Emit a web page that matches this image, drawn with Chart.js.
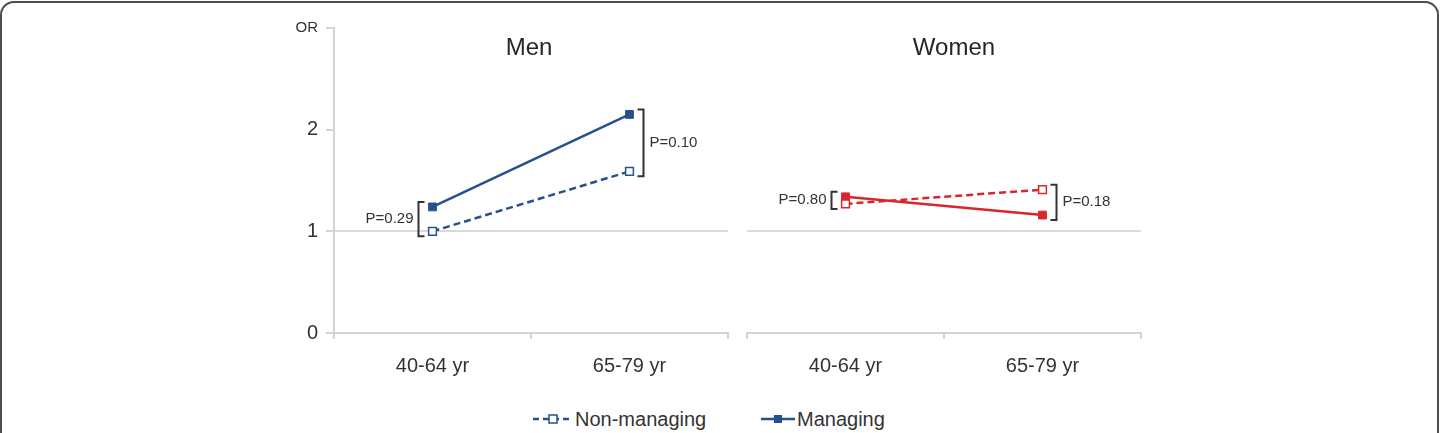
<!DOCTYPE html>
<html>
<head>
<meta charset="utf-8">
<script src="https://cdn.jsdelivr.net/npm/chart.js@4.4.1/dist/chart.umd.min.js"></script>
<style>
  html, body { margin: 0; padding: 0; background: #fff; }
  body { width: 1441px; height: 433px; overflow: hidden; position: relative; font-family: "Liberation Sans", Arial, sans-serif; }
  .frame { position: absolute; left: 0; top: 1px; width: 1435px; height: 480px; border: 2.5px solid #4d4d4d; border-radius: 14px; }
  canvas { position: absolute; top: 0; }
  #men-chart { left: 250px; }
  #women-chart { left: 740px; }
  .legend { position: absolute; top: 408px; left: 0; height: 22px; font-size: 20px; color: #333; }
  .legend .item { position: absolute; top: 0; white-space: nowrap; display: flex; align-items: center; height: 22px; }
  .legend svg { display: block; margin-right: 2px; }
</style>
</head>
<body>
<div class="frame"></div>
<canvas id="men-chart" width="490" height="400"></canvas>
<canvas id="women-chart" width="420" height="400"></canvas>
<div class="legend">
  <div class="item" style="left:533px">
    <svg width="40" height="12"><line x1="0" y1="6" x2="40" y2="6" stroke="#24528f" stroke-width="2.5" stroke-dasharray="6,4"/><rect x="16" y="2" width="8" height="8" fill="#fff" stroke="#24528f" stroke-width="1.5"/></svg>
    <span>Non-managing</span>
  </div>
  <div class="item" style="left:761px">
    <svg width="34" height="12"><line x1="0" y1="6" x2="34" y2="6" stroke="#24528f" stroke-width="2.5"/><rect x="13" y="2" width="8" height="8" fill="#24528f"/></svg>
    <span>Managing</span>
  </div>
</div>
<script>
// categories and odds ratios
const ageGroups = ['40-64 yr', '65-79 yr'];
const menNonManaging = [1.00, 1.59];
const menManaging = [1.24, 2.15];
const womenNonManaging = [1.27, 1.41];
const womenManaging = [1.34, 1.16];
const menPValues = ['P=0.29', 'P=0.10'];
const womenPValues = ['P=0.80', 'P=0.18'];
const yTicks = [0, 1, 2, 3];

const FONT = '"Liberation Sans", Arial, sans-serif';
const BLUE = '#24528f';
const RED = '#d9262c';
const AXIS = '#d4d4d4';
const TEXT = '#333';

// panel title and P-value brackets, positioned from the scales
const panelNotes = {
  id: 'panelNotes',
  afterDatasetsDraw(chart, args, opts) {
    const { ctx, chartArea } = chart;
    const x = chart.scales.x, y = chart.scales.y;
    ctx.save();
    ctx.fillStyle = '#262626';
    ctx.font = '24px ' + FONT;
    ctx.textAlign = 'center';
    ctx.textBaseline = 'middle';
    ctx.fillText(opts.title, (chartArea.left + chartArea.right) / 2 + opts.titleShift, chartArea.top + 20);

    ctx.strokeStyle = TEXT;
    ctx.fillStyle = TEXT;
    ctx.lineWidth = 2;
    ctx.font = '15px ' + FONT;
    opts.pLabels.forEach((label, i) => {
      const a = chart.data.datasets[0].data[i];
      const b = chart.data.datasets[1].data[i];
      const px = x.getPixelForValue(i);
      const top = y.getPixelForValue(Math.max(a, b)) - 5;
      const bottom = y.getPixelForValue(Math.min(a, b)) + 5;
      const left = i === 0;
      const bx = left ? px - 14 : px + 14;
      const serif = left ? 6 : -6;
      ctx.beginPath();
      ctx.moveTo(bx + serif, top);
      ctx.lineTo(bx, top);
      ctx.lineTo(bx, bottom);
      ctx.lineTo(bx + serif, bottom);
      ctx.stroke();
      ctx.textAlign = left ? 'right' : 'left';
      ctx.fillText(label, left ? bx - 5 : bx + 6, (top + bottom) / 2);
    });
    ctx.restore();
  }
};

function makeDatasets(nonManaging, managing, color) {
  return [{
    label: 'Non-managing',
    data: nonManaging,
    borderColor: color,
    backgroundColor: '#fff',
    borderWidth: 2.5,
    borderDash: [7, 4],
    pointStyle: 'rect',
    pointRadius: 5.5,
    pointBorderWidth: 1.5,
    pointBackgroundColor: '#fff',
    pointBorderColor: color
  }, {
    label: 'Managing',
    data: managing,
    borderColor: color,
    backgroundColor: color,
    borderWidth: 2.5,
    pointStyle: 'rect',
    pointRadius: 5.5,
    pointBorderWidth: 1,
    pointBackgroundColor: color,
    pointBorderColor: color
  }];
}

function makeOptions(showAxis, notes, padding) {
  return {
    responsive: false,
    animation: false,
    layout: { padding: padding },
    plugins: {
      legend: { display: false },
      tooltip: { enabled: false },
      panelNotes: notes
    },
    scales: {
      x: {
        offset: true,
        afterFit: s => { s.height = 67; },
        border: { color: AXIS, width: 2 },
        grid: { offset: true, drawOnChartArea: false, drawTicks: true, tickLength: 6, color: AXIS, lineWidth: 2 },
        ticks: { color: TEXT, padding: 15, font: { family: FONT, size: 20 } }
      },
      y: {
        min: 0,
        max: 3,
        afterFit: s => { s.width = showAxis ? 84 : 0; },
        afterBuildTicks: s => { s.ticks = yTicks.map(v => ({ value: v })); },
        border: { display: showAxis, color: AXIS, width: 2 },
        grid: {
          drawTicks: showAxis,
          tickLength: 8,
          tickColor: AXIS,
          lineWidth: 2,
          color: c => (c.tick && c.tick.value === 1 ? '#d9d9d9' : 'rgba(0,0,0,0)')
        },
        ticks: {
          display: showAxis,
          padding: 8,
          color: TEXT,
          callback: v => (v === 3 ? 'OR' : v),
          font: c => ({ family: FONT, size: c.tick && c.tick.value === 3 ? 15 : 20 })
        }
      }
    }
  };
}

new Chart(document.getElementById('men-chart'), {
  type: 'line',
  data: { labels: ageGroups, datasets: makeDatasets(menNonManaging, menManaging, BLUE) },
  options: makeOptions(true, { title: 'Men', titleShift: -2, pLabels: menPValues }, { top: 28, right: 12, left: 0, bottom: 0 }),
  plugins: [panelNotes]
});

new Chart(document.getElementById('women-chart'), {
  type: 'line',
  data: { labels: ageGroups, datasets: makeDatasets(womenNonManaging, womenManaging, RED) },
  options: makeOptions(false, { title: 'Women', titleShift: 10, pLabels: womenPValues }, { top: 28, right: 19, left: 7, bottom: 0 }),
  plugins: [panelNotes]
});
</script>
</body>
</html>
